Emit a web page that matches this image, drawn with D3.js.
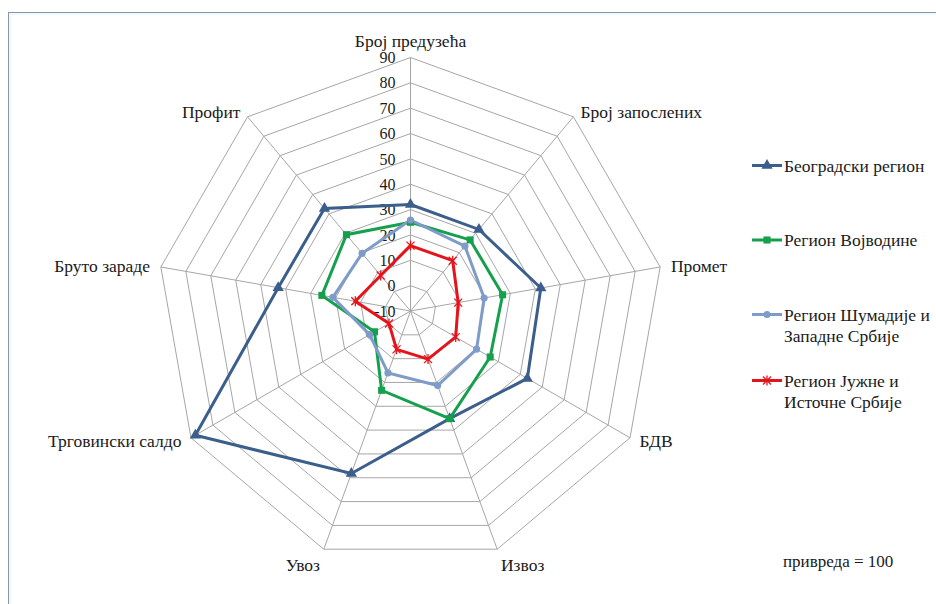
<!DOCTYPE html>
<html><head><meta charset="utf-8">
<script src="https://cdn.jsdelivr.net/npm/d3@7"></script>
<style>body{margin:0;background:#fff}svg{display:block}</style>
</head><body>
<svg id="c" width="936" height="604"></svg>
<script>
const categories = ["Број предузећа","Број запослених","Промет","БДВ","Извоз","Увоз","Трговински салдо","Бруто зараде","Профит"];
const belgrade  = [32, 32, 42.2, 43.2, 35.2, 58.2, 88, 43, 42.8];
const vojvodina = [25, 26.6, 26.9, 26.3, 35.2, 23.3, 6.4, 25.5, 29.3];
const sumadija  = [25.9, 23.4, 19.5, 20.1, 21.3, 16, 8.6, 21.1, 19.7];
const south     = [15.8, 15.9, 9.1, 10.6, 10.2, 6.1, -0.2, 12.1, 8.3];
const seriesNames = [["Београдски регион"],["Регион Војводине"],["Регион Шумадије и","Западне Србије"],["Регион Јужне и","Источне Србије"]];
const tickValues = [-10,0,10,20,30,40,50,60,70,80,90];
const note = "привреда  = 100";

const svg = d3.select("#c");
const FONT = "'Liberation Serif', Tinos, 'DejaVu Serif', 'Noto Serif', 'Nimbus Roman', 'Nimbus Roman No9 L', FreeSerif, Times, 'Times New Roman', serif";
svg.append("rect").attr("x",8.5).attr("y",12.5).attr("width",940).attr("height",600).attr("fill","#fff").attr("stroke","#8597a5").attr("stroke-width",1);
svg.append("rect").attr("x",10).attr("y",14).attr("width",940).attr("height",600).attr("fill","none").attr("stroke","#e4f3f6").attr("stroke-width",1);

const cx = 410.5, cy = 311, R = 253.5;
const r = d3.scaleLinear().domain([-10,90]).range([0,R]);
const ang = d3.scaleLinear().domain([0,categories.length]).range([0,2*Math.PI]);
const g = svg.append("g").attr("transform",`translate(${cx},${cy})`);

const pt = (i,v)=>[r(v)*Math.sin(ang(i)), -r(v)*Math.cos(ang(i))];

const ringLine = d3.lineRadial().angle((d,i)=>ang(i)).radius(d=>r(d)).curve(d3.curveLinearClosed);
tickValues.slice(1).forEach(t=>{
  g.append("path").attr("d",ringLine(categories.map(()=>t))).attr("fill","none").attr("stroke","#a6a6a6").attr("stroke-width",1);
});
categories.forEach((c,i)=>{
  const [x,y]=pt(i,90);
  g.append("line").attr("x1",0).attr("y1",0).attr("x2",x).attr("y2",y).attr("stroke","#a6a6a6").attr("stroke-width",1);
});
tickValues.forEach(t=>{
  g.append("text").attr("x",-15).attr("y",-r(t)).attr("dy","0.35em").attr("text-anchor","end")
   .attr("font-family",FONT).attr("font-size","16px").attr("fill","#1a1a1a").text(t);
});
categories.forEach((c,i)=>{
  const a = ang(i), s=Math.sin(a), co=Math.cos(a);
  const [x,y]=pt(i,90);
  const dx = 11*s, dy = -co*(Math.abs(co)>0.9?17:7);
  g.append("text").attr("x",x+dx).attr("y",y+dy).attr("dy","0.35em")
    .attr("text-anchor", Math.abs(s)<0.1?"middle":(s>0?"start":"end"))
    .attr("font-family",FONT).attr("font-size","17.5px").attr("fill","#1a1a1a").text(c);
});

const colors = ["#3b5e8c","#14a04c","#7f9cc9","#e5141b"];
const data = [belgrade, vojvodina, sumadija, south];
const line = d3.lineRadial().angle((d,i)=>ang(i)).radius(d=>r(d)).curve(d3.curveLinearClosed);

function marker(sel, k, color){
  if(k===0) sel.append("path").attr("d",d3.symbol(d3.symbolTriangle,55)()).attr("fill",color);
  else if(k===1) sel.append("path").attr("d",d3.symbol(d3.symbolSquare,50)()).attr("fill",color);
  else if(k===2) sel.append("path").attr("d",d3.symbol(d3.symbolCircle,40)()).attr("fill",color);
  else sel.append("path").attr("d","M-4,-4L4,4M-4,4L4,-4M0,-5L0,5").attr("stroke",color).attr("stroke-width",1.3).attr("fill","none");
}

data.forEach((vals,k)=>{
  g.append("path").attr("d",line(vals)).attr("fill","none").attr("stroke",colors[k]).attr("stroke-width",3).attr("stroke-linejoin","miter");
});
data.forEach((vals,k)=>{
  vals.forEach((v,i)=>{
    const [x,y]=pt(i,v);
    marker(g.append("g").attr("transform",`translate(${x},${y})`), k, colors[k]);
  });
});

const legY = [165.5, 240, 314.5, 380.5];
seriesNames.forEach((lines,k)=>{
  const lg = svg.append("g").attr("transform",`translate(752,${legY[k]})`);
  lg.append("line").attr("x1",0).attr("x2",30).attr("y1",0).attr("y2",0).attr("stroke",colors[k]).attr("stroke-width",3);
  marker(lg.append("g").attr("transform","translate(15,0)"), k, colors[k]);
  lines.forEach((t,j)=>{
    lg.append("text").attr("x",32).attr("y",j*21).attr("dy","0.35em")
      .attr("font-family",FONT).attr("font-size","17.5px").attr("fill","#1a1a1a").text(t);
  });
});
svg.append("text").attr("x",783).attr("y",561).attr("dy","0.35em")
  .attr("font-family",FONT).attr("font-size","17px").attr("fill","#1a1a1a").text(note);
</script>
</body></html>
